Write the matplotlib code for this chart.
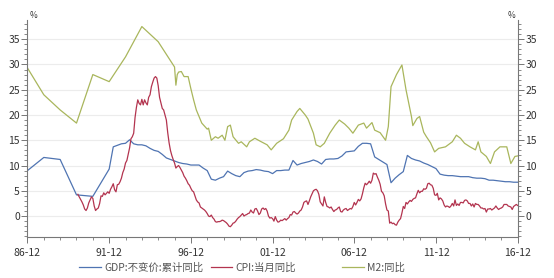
import numpy as np
import pandas as pd
import matplotlib
matplotlib.use("Agg")
from matplotlib import pyplot as plt
from matplotlib.lines import Line2D
from matplotlib.ticker import FixedLocator, MultipleLocator, NullFormatter

plt.rcParams["font.family"] = ["Noto Sans CJK SC", "DejaVu Sans"]

# GDP:不变价:累计同比 (annual up to 1991, quarterly afterwards)
gdp_months = [
    "1986-12", "1987-12", "1988-12", "1989-12", "1990-12", "1991-12",
    "1992-03", "1992-06", "1992-09", "1992-12", "1993-03", "1993-06", "1993-09", "1993-12",
    "1994-03", "1994-06", "1994-09", "1994-12", "1995-03", "1995-06", "1995-09", "1995-12",
    "1996-03", "1996-06", "1996-09", "1996-12", "1997-03", "1997-06", "1997-09", "1997-12",
    "1998-03", "1998-06", "1998-09", "1998-12", "1999-03", "1999-06", "1999-09", "1999-12",
    "2000-03", "2000-06", "2000-09", "2000-12", "2001-03", "2001-06", "2001-09", "2001-12",
    "2002-03", "2002-06", "2002-09", "2002-12", "2003-03", "2003-06", "2003-09", "2003-12",
    "2004-03", "2004-06", "2004-09", "2004-12", "2005-03", "2005-06", "2005-09", "2005-12",
    "2006-03", "2006-06", "2006-09", "2006-12", "2007-03", "2007-06", "2007-09", "2007-12",
    "2008-03", "2008-06", "2008-09", "2008-12", "2009-03", "2009-06", "2009-09", "2009-12",
    "2010-03", "2010-06", "2010-09", "2010-12", "2011-03", "2011-06", "2011-09", "2011-12",
    "2012-03", "2012-06", "2012-09", "2012-12", "2013-03", "2013-06", "2013-09", "2013-12",
    "2014-03", "2014-06", "2014-09", "2014-12", "2015-03", "2015-06", "2015-09", "2015-12",
    "2016-03", "2016-06", "2016-09", "2016-12",
]
gdp_vals = [
    9.0, 11.6, 11.2, 4.2, 3.9, 9.3,
    13.7, 14.0, 14.3, 14.4, 15.1, 14.3, 14.1, 14.1,
    13.9, 13.4, 13.0, 12.8, 12.2, 11.5, 11.2, 10.9,
    10.6, 10.4, 10.3, 10.1, 10.1, 10.1, 9.5, 9.0,
    7.3, 7.1, 7.5, 7.8, 8.9, 8.4, 8.0, 7.8,
    8.6, 8.9, 9.0, 9.2, 9.1, 8.9, 8.8, 8.4,
    9.0, 9.0, 9.1, 9.1, 11.0, 10.1, 10.4, 10.6,
    10.8, 11.1, 10.8, 10.3, 11.2, 11.3, 11.3, 11.4,
    11.9, 12.7, 12.8, 12.9, 13.8, 14.4, 14.4, 14.3,
    11.7, 11.2, 10.7, 10.2, 6.6, 7.5, 8.2, 8.8,
    12.0, 11.4, 11.1, 10.9, 10.5, 10.2, 9.8, 9.4,
    8.3, 8.1, 8.0, 8.0, 7.9, 7.8, 7.8, 7.8,
    7.6, 7.5, 7.5, 7.4, 7.1, 7.1, 7.0, 6.9,
    6.8, 6.8, 6.7, 6.7,
]

# CPI:当月同比, monthly from 1990-01
cpi_start = "1990-01"
cpi_vals = [
    4.3, 3.8, 3.3, 2.8, 2.2, 1.4, 1.1, 1.6, 2.6, 3.2, 3.8, 3.5,
    2.0, 1.1, 1.4, 1.6, 2.5, 4.0, 3.9, 4.6, 4.2, 4.5, 4.8, 4.5,
    5.3, 5.8, 6.4, 5.2, 4.8, 6.2, 6.3, 6.8, 7.5, 8.6, 9.3, 10.5,
    11.0, 12.2, 13.5, 15.3, 15.7, 16.4, 19.5, 21.5, 23.0, 22.3, 22.0, 23.1,
    22.0, 23.0, 22.4, 22.0, 23.5, 24.0, 25.6, 26.5, 27.3, 27.6, 27.3, 25.8,
    23.5, 22.4, 21.3, 21.0, 20.0, 19.0, 16.5, 14.5, 13.0, 12.0, 11.2, 10.5,
    9.5, 9.8, 10.0, 9.6, 9.1, 8.6, 7.9, 7.5, 7.0, 6.4, 6.1, 5.5,
    5.0, 4.8, 4.0, 3.2, 2.8, 2.6, 1.8, 1.6, 1.4, 1.2, 0.9, 0.5,
    0.0, -0.1, 0.2, -0.3, -0.6, -1.1, -1.2, -1.1, -1.1, -1.0, -0.8, -0.9,
    -1.1, -1.3, -1.6, -2.0, -2.1, -1.8, -1.4, -1.3, -1.0, -0.6, -0.3, -0.1,
    0.2, 0.5, 0.0, 0.2, 0.3, 0.5, 0.6, 1.2, 0.8, 0.6, 1.4, 1.5,
    1.0, 0.3, 0.6, 1.4, 1.6, 1.3, 1.5, 1.0, 0.0, -0.4, -0.3, -0.5,
    -1.0, -0.1, -0.8, -1.2, -1.1, -0.8, -0.9, -0.7, -0.5, -0.8, -0.5, -0.3,
    0.3, 0.2, 0.8, 0.9, 0.6, 0.4, 0.6, 1.0, 1.2, 1.8, 2.7, 2.9,
    3.0, 2.3, 3.0, 3.8, 4.4, 5.0, 5.2, 5.3, 5.0, 4.3, 2.8, 2.4,
    2.0, 3.8, 2.7, 1.9, 1.8, 1.6, 1.8, 1.3, 0.9, 1.2, 1.3, 1.6,
    1.8, 0.9, 0.8, 1.2, 1.4, 1.5, 1.1, 1.3, 1.5, 1.4, 1.9, 2.7,
    2.2, 2.7, 3.3, 3.0, 3.4, 4.4, 5.6, 6.5, 6.2, 6.5, 6.9, 6.5,
    7.1, 8.5, 8.3, 8.4, 7.7, 7.1, 6.3, 4.9, 4.6, 4.0, 2.4, 1.2,
    1.0, -1.4, -1.2, -1.5, -1.4, -1.7, -1.8, -1.2, -0.8, -0.5, 0.6, 1.9,
    1.5, 2.7, 2.4, 2.8, 3.1, 2.9, 3.3, 3.5, 3.6, 4.4, 5.1, 4.6,
    4.9, 4.9, 5.4, 5.3, 5.5, 6.4, 6.5, 6.2, 6.1, 5.5, 4.2, 4.1,
    4.5, 3.2, 3.6, 3.4, 3.0, 2.2, 1.8, 2.0, 1.9, 1.7, 2.0, 2.5,
    2.0, 3.2, 2.1, 2.4, 2.1, 2.7, 2.7, 2.6, 3.1, 3.2, 3.0, 2.5,
    2.5, 2.0, 2.4, 1.8, 2.5, 2.3, 2.3, 2.0, 1.6, 1.6, 1.4, 1.5,
    0.8, 1.4, 1.4, 1.5, 1.2, 1.4, 1.6, 2.0, 1.6, 1.3, 1.5, 1.6,
    1.8, 2.3, 2.3, 2.3, 2.0, 1.9, 1.8, 1.3, 1.9, 2.1, 2.3, 2.1,
]

# M2:同比 (annual up to 1995, monthly readings afterwards)
m2_months = [
    "1986-12", "1987-12", "1988-12", "1989-12", "1990-12", "1991-12", "1992-12",
    "1993-12", "1994-12", "1995-12",
    "1996-01", "1996-02", "1996-03", "1996-05", "1996-07", "1996-10", "1996-12",
    "1997-02", "1997-04", "1997-08", "1997-12", "1998-01", "1998-03", "1998-06",
    "1998-08", "1998-11", "1999-01", "1999-03", "1999-05", "1999-07", "1999-11",
    "2000-01", "2000-05", "2000-07", "2000-11", "2001-03", "2001-08", "2001-11",
    "2002-03", "2002-08", "2002-12", "2003-02", "2003-06", "2003-08", "2003-12",
    "2004-02", "2004-06", "2004-08", "2004-11", "2005-02", "2005-06", "2005-10",
    "2006-01", "2006-05", "2006-08", "2006-11", "2007-03", "2007-07", "2007-09",
    "2008-01", "2008-03", "2008-07", "2008-11", "2009-01", "2009-03", "2009-07",
    "2009-11", "2010-02", "2010-06", "2010-07", "2010-10", "2010-12", "2011-03",
    "2011-05", "2011-08", "2011-11", "2012-02", "2012-07", "2012-12", "2013-03",
    "2013-06", "2013-09", "2014-01", "2014-05", "2014-07", "2014-09", "2015-01",
    "2015-04", "2015-07", "2015-11", "2016-04", "2016-07", "2016-10", "2016-12",
]
m2_vals = [
    29.3, 24.0, 21.0, 18.4, 28.0, 26.6, 31.5,
    37.5, 34.5, 29.5,
    25.9, 28.0, 28.5, 28.6, 27.6, 27.6, 25.2,
    23.0, 21.0, 18.4, 17.2, 17.4, 15.0, 15.7,
    15.4, 16.0, 15.0, 17.7, 18.0, 15.7, 14.4,
    14.7, 13.7, 14.7, 15.4, 14.8, 14.1, 13.1,
    14.4, 15.3, 17.0, 19.0, 20.7, 21.3, 20.0,
    19.2, 16.4, 14.1, 13.7, 14.4, 16.4, 18.0,
    19.0, 18.2, 17.4, 16.4, 18.0, 18.4, 17.4,
    18.5, 17.0, 16.5, 15.0, 17.7, 25.6, 28.0,
    29.9, 25.0, 19.7, 17.9, 19.3, 19.7, 16.6,
    15.7, 14.5, 12.7, 13.4, 13.7, 14.7, 16.0,
    15.4, 14.4, 13.7, 13.1, 14.7, 12.7, 11.8,
    10.4, 12.7, 13.7, 13.7, 10.4, 11.8, 11.9,
]

tick_years = [1986, 1991, 1996, 2001, 2006, 2011, 2016]


def to_t(month):
    y, m = month.split("-")
    return int(y) + (int(m) - 1) / 12


gdp_t = [to_t(s) for s in gdp_months]
m2_t = [to_t(s) for s in m2_months]
cpi_t = [to_t(str(p)) for p in pd.period_range(cpi_start, periods=len(cpi_vals), freq="M")]

C_GDP = "#4f74b2"
C_CPI = "#b3344f"
C_M2 = "#a9b65c"
TXT = "#333333"
AX = "#777777"

fig = plt.figure(figsize=(5.54, 2.78), dpi=100)
ax = fig.add_axes([0.0496, 0.1464, 0.8848, 0.7817])

ax.plot(gdp_t, gdp_vals, color=C_GDP, lw=0.9)
ax.plot(cpi_t, cpi_vals, color=C_CPI, lw=0.9)
ax.plot(m2_t, m2_vals, color=C_M2, lw=0.9)

ax.set_xlim(1986 + 11 / 12, 2016 + 11 / 12)
ax.set_ylim(-4.2, 38.8)

ax.xaxis.set_major_locator(FixedLocator([y + 11 / 12 for y in tick_years]))
ax.set_xticklabels(["%02d-12" % (y % 100) for y in tick_years])
ax.xaxis.set_minor_locator(FixedLocator([y + 11 / 12 for y in range(1986, 2017)]))
ax.xaxis.set_minor_formatter(NullFormatter())

ax.yaxis.set_major_locator(MultipleLocator(5))
ax.yaxis.set_minor_locator(MultipleLocator(1))
ax.set_yticks(range(0, 36, 5))
ax.tick_params(axis="y", which="both", left=True, right=True, labelleft=True, labelright=True)
ax.tick_params(which="major", length=4, width=0.7, color=AX, labelsize=7.5, labelcolor=TXT, pad=1.5)
ax.tick_params(which="minor", length=2, width=0.6, color=AX)
ax.tick_params(axis="x", which="major", pad=4)

ax.grid(axis="y", which="major", color="#ececec", lw=0.8)
ax.set_axisbelow(True)
for side in ["left", "right", "bottom"]:
    ax.spines[side].set_color(AX)
    ax.spines[side].set_linewidth(0.8)
ax.spines["top"].set_visible(False)

ax.text(0.004, 1.0, "%", transform=ax.transAxes, fontsize=6, color=TXT, ha="left", va="bottom")
ax.text(0.996, 1.0, "%", transform=ax.transAxes, fontsize=6, color=TXT, ha="right", va="bottom")

# legend, three fixed-width columns under the axis
labels = ["GDP:不变价:累计同比", "CPI:当月同比", "M2:同比"]
colors = [C_GDP, C_CPI, C_M2]
for i, (lab, col) in enumerate(zip(labels, colors)):
    h = Line2D([], [], color=col, lw=0.9)
    fig.legend([h], [lab], loc="center left", bbox_to_anchor=((79 + 131.5 * i) / 554, 0.036),
               frameon=False, fontsize=7.5, handlelength=2.1, handletextpad=0.3,
               borderpad=0, borderaxespad=0, labelcolor="#555555")

fig.savefig("out.png", dpi=100)
